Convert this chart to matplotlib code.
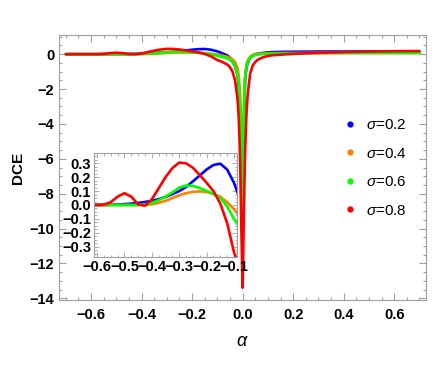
import matplotlib
matplotlib.use("Agg")
import matplotlib.pyplot as plt
from matplotlib.lines import Line2D
from matplotlib.ticker import MultipleLocator

plt.rcParams['font.family'] = ['Liberation Sans', 'DejaVu Sans']
plt.rcParams['mathtext.fontset'] = 'custom'
plt.rcParams['mathtext.it'] = 'Liberation Sans:italic'
plt.rcParams['mathtext.rm'] = 'Liberation Sans'

# ---------------- data ----------------
alpha = [-0.7, -0.65,
         -0.6, -0.575, -0.55, -0.525, -0.5, -0.475, -0.45, -0.425, -0.4, -0.375,
         -0.35, -0.325, -0.3, -0.275, -0.25, -0.225, -0.2, -0.175, -0.15, -0.125, -0.1,
         -0.08, -0.06, -0.05, -0.04, -0.03, -0.02, -0.015, -0.01, -0.005,
         0.0,
         0.005, 0.01, 0.015, 0.02, 0.03, 0.04, 0.05, 0.06, 0.08,
         0.1, 0.12, 0.15, 0.2, 0.3, 0.4, 0.5, 0.6, 0.7]

dce_s02 = [0.0, 0.0,
           0.0, 0.0, 0.002, 0.004, 0.006, 0.010, 0.015, 0.022, 0.030, 0.042,
           0.058, 0.078, 0.100, 0.130, 0.170, 0.212, 0.255, 0.288, 0.297, 0.255, 0.16,
           0.05, -0.08, -0.2, -0.4, -0.7, -1.2, -1.9, -3.2, -6.0,
           -10.0,
           -4.0, -1.4, -0.8, -0.5, -0.2, -0.08, 0.0, 0.03, 0.07,
           0.10, 0.12, 0.13, 0.14, 0.15, 0.15, 0.15, 0.15, 0.15]

dce_s04 = [0.0, 0.0,
           0.0, 0.0, 0.0, 0.0, 0.0, 0.0, 0.0, 0.0, 0.005, 0.015,
           0.030, 0.050, 0.070, 0.085, 0.095, 0.098, 0.093, 0.080, 0.060, 0.020, -0.03,
           -0.08, -0.15, -0.22, -0.3, -0.45, -0.8, -1.3, -2.3, -4.5,
           -8.0,
           -3.0, -1.1, -0.6, -0.35, -0.13, -0.04, 0.0, 0.02, 0.04,
           0.05, 0.06, 0.065, 0.07, 0.075, 0.078, 0.08, 0.08, 0.08]

dce_s06 = [0.0, 0.0,
           0.0, 0.0, 0.0, 0.0, 0.0, 0.0, 0.0, 0.005, 0.015, 0.035,
           0.060, 0.090, 0.125, 0.140, 0.137, 0.122, 0.102, 0.080, 0.050, -0.010, -0.10,
           -0.16, -0.25, -0.33, -0.45, -0.7, -1.2, -1.8, -3.0, -5.5,
           -9.0,
           -3.5, -1.3, -0.75, -0.45, -0.2, -0.1, -0.05, -0.02, 0.01,
           0.02, 0.03, 0.04, 0.05, 0.055, 0.06, 0.06, 0.06, 0.06]

dce_s08 = [0.0, 0.0,
           0.0, 0.003, 0.020, 0.060, 0.085, 0.060, 0.005, -0.005, 0.040, 0.120,
           0.200, 0.265, 0.305, 0.300, 0.268, 0.215, 0.160, 0.100, 0.010, -0.130, -0.34,
           -0.45, -0.6, -0.75, -1.0, -1.5, -2.6, -3.8, -6.0, -10.0,
           -13.4,
           -9.0, -5.5, -3.5, -2.3, -1.1, -0.65, -0.45, -0.32, -0.18,
           -0.1, -0.06, -0.03, 0.02, 0.08, 0.12, 0.15, 0.17, 0.18]

series = [("0.2", dce_s02, "#0000FF"),
          ("0.4", dce_s04, "#FF8000"),
          ("0.6", dce_s06, "#00FF00"),
          ("0.8", dce_s08, "#FF0000")]

main_xticks = [-0.6, -0.4, -0.2, 0.0, 0.2, 0.4, 0.6]
main_yticks = [0, -2, -4, -6, -8, -10, -12, -14]
inset_xticks = [-0.6, -0.5, -0.4, -0.3, -0.2, -0.1]
inset_yticks = [0.3, 0.2, 0.1, 0.0, -0.1, -0.2, -0.3]

# ---------------- figure ----------------
W, H = 436, 382
fig = plt.figure(figsize=(W / 100, H / 100), dpi=100)
frame_col = "#A0A0A0"

ax = fig.add_axes([59 / W, 1 - 300 / H, (426 - 59) / W, (300 - 35) / H])
for name, ys, col in series:
    ax.plot(alpha, ys, color=col, lw=1.9, solid_capstyle='round')
ax.set_xlim(-0.727, 0.726)
ax.set_ylim(-14.1, 1.1)
ax.set_xticks(main_xticks)
ax.set_yticks(main_yticks)
ax.set_xticklabels([f"{v:.1f}".replace("-", "\u2212") for v in main_xticks])
ax.set_yticklabels([f"{v}".replace("-", "\u2212") for v in main_yticks])
ax.xaxis.set_minor_locator(MultipleLocator(0.05))
ax.yaxis.set_minor_locator(MultipleLocator(0.5))
ax.tick_params(which='both', direction='in', top=True, right=True, color=frame_col,
               labelsize=10.5, width=0.8)
ax.tick_params(axis='x', which='major', pad=6)
ax.tick_params(which='major', length=5)
ax.tick_params(which='minor', length=2.5)
for lab in ax.get_xticklabels() + ax.get_yticklabels():
    lab.set_fontweight('bold')
for s in ax.spines.values():
    s.set_color(frame_col)
    s.set_linewidth(0.8)
ax.set_xlabel(r"$\alpha$", fontsize=13)
ax.xaxis.set_label_coords((242.5 - 59) / (426 - 59), -(342 - 300) / (300 - 35))
ax.xaxis.label.set_va('center')
ax.set_ylabel("DCE", fontsize=11, fontweight='bold')
ax.yaxis.set_label_coords(-(59 - 18) / (426 - 59), (300 - 168) / (300 - 35))
ax.yaxis.label.set_va('center')

handles = [Line2D([], [], marker='o', linestyle='none', markersize=3.5, color=col)
           for _, _, col in series]
labels = [r"$\sigma$=" + name for name, _, _ in series]
ax.legend(handles, labels, loc='upper left', bbox_to_anchor=(345 / W, 1 - 118 / H),
          bbox_transform=fig.transFigure, frameon=False, fontsize=11,
          handlelength=0.6, handletextpad=0.75, labelspacing=0.95, borderpad=0,
          borderaxespad=0)

# ---------------- inset ----------------
axi = fig.add_axes([94 / W, 1 - 257 / H, (237 - 94) / W, (257 - 153) / H])
for name, ys, col in series:
    axi.plot(alpha, ys, color=col, lw=1.9)
axi.set_xlim(-0.611, -0.089)
axi.set_ylim(-0.374, 0.374)
axi.set_xticks(inset_xticks)
axi.set_yticks(inset_yticks)
axi.set_xticklabels([f"{v:.1f}".replace("-", "\u2212") for v in inset_xticks])
axi.set_yticklabels([f"{v:.1f}".replace("-", "\u2212") for v in inset_yticks])
axi.xaxis.set_minor_locator(MultipleLocator(0.025))
axi.yaxis.set_minor_locator(MultipleLocator(0.025))
axi.tick_params(which='both', direction='in', top=True, right=True, color=frame_col,
                labelsize=10.5, width=0.6, pad=2)
axi.tick_params(which='major', length=3.5)
axi.tick_params(which='minor', length=1.8)
for lab in axi.get_xticklabels() + axi.get_yticklabels():
    lab.set_fontweight('bold')
for s in axi.spines.values():
    s.set_color(frame_col)
    s.set_linewidth(0.8)

fig.savefig("out.png", dpi=100)
